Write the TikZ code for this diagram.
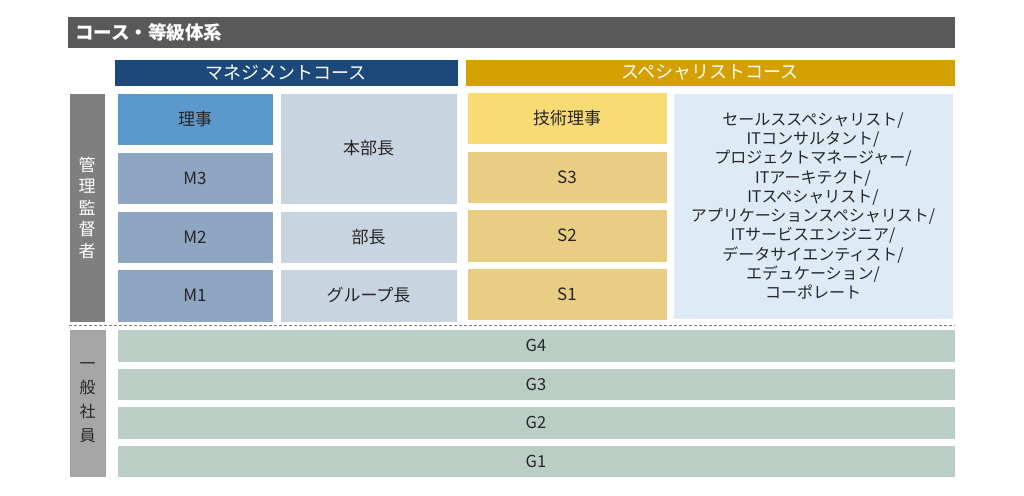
\documentclass[tikz,border=0pt]{standalone}
\usepackage{fontspec}
\setmainfont{Noto Sans CJK JP}
\definecolor{titlebg}{HTML}{595959}
\definecolor{mgmthd}{HTML}{1D497A}
\definecolor{spechd}{HTML}{D3A000}
\definecolor{rijic}{HTML}{5B99CC}
\definecolor{mc}{HTML}{8EA6C1}
\definecolor{posc}{HTML}{C8D4E0}
\definecolor{gijutsuc}{HTML}{F8DB72}
\definecolor{sc}{HTML}{E8CD82}
\definecolor{listc}{HTML}{DEEAF6}
\definecolor{gc}{HTML}{BBCEC5}
\definecolor{bardark}{HTML}{7F7F7F}
\definecolor{barlight}{HTML}{A6A6A6}
\definecolor{txt}{HTML}{262626}
\tikzset{
  cell/.style={draw=white, line width=0.6pt, inner sep=0pt, text=txt, font=\fontsize{17}{19}\selectfont},
  header/.style={cell, text=white, font=\fontsize{18}{20}\selectfont},
}
\begin{document}
\begin{tikzpicture}[x=1pt,y=-1pt]
\useasboundingbox[fill=white] (0,0) rectangle (1024,495);
% title
\node[fill=titlebg, text=white, inner xsep=7pt, inner ysep=0pt, text width=873pt, align=left, minimum height=31pt, font=\fontsize{18.5}{20}\selectfont\bfseries] (title) at (511.5,32.5) {コース・等級体系};
% headers
\node[header, fill=mgmthd, minimum width=344pt, minimum height=27pt] (mgmt) at (286,72.5) {マネジメントコース};
\node[header, fill=spechd, minimum width=490pt, minimum height=27pt] (spec) at (710,72.5) {スペシャリストコース};
% left bars
\node[cell, fill=bardark, text=white, minimum width=36pt, minimum height=229pt, align=center, font=\fontsize{17}{21.5}\selectfont] (kanri) at (87,207.5) {管\\理\\監\\督\\者};
\node[cell, fill=barlight, text=txt, minimum width=37pt, minimum height=148pt, align=center, font=\fontsize{16}{24}\selectfont] (ippan) at (87.5,403) {一\\般\\社\\員};
% management course
\node[cell, fill=rijic, minimum width=156pt, minimum height=52pt] (riji) at (195,119) {理事};
\node[cell, fill=mc, minimum width=156pt, minimum height=52pt] (m3) at (195,178) {M3};
\node[cell, fill=mc, minimum width=156pt, minimum height=52pt] (m2) at (195,237) {M2};
\node[cell, fill=mc, minimum width=156pt, minimum height=53pt] (m1) at (195,295.5) {M1};
\node[cell, fill=posc, minimum width=177pt, minimum height=111pt] (honbucho) at (368.5,148.5) {本部長};
\node[cell, fill=posc, minimum width=177pt, minimum height=52pt] (bucho) at (368.5,237) {部長};
\node[cell, fill=posc, minimum width=177pt, minimum height=53pt] (group) at (368.5,295.5) {グループ長};
% specialist course
\node[cell, fill=gijutsuc, minimum width=200pt, minimum height=52pt] (gijutsu) at (567,118) {技術理事};
\node[cell, fill=sc, minimum width=200pt, minimum height=52pt] (s3) at (567,177) {S3};
\node[cell, fill=sc, minimum width=200pt, minimum height=53pt] (s2) at (567,235.5) {S2};
\node[cell, fill=sc, minimum width=200pt, minimum height=52pt] (s1) at (567,294) {S1};
\node[cell, fill=listc, minimum width=280pt, minimum height=226pt, align=center, font=\fontsize{16}{19.3}\selectfont] (list) at (813,206) {セールススペシャリスト/\\ITコンサルタント/\\プロジェクトマネージャー/\\ITアーキテクト/\\ITスペシャリスト/\\アプリケーションスペシャリスト/\\ITサービスエンジニア/\\データサイエンティスト/\\エデュケーション/\\コーポレート};
% divider
\coordinate (dl) at (69,325);
\coordinate (dr) at (955,325);
\draw[gray, dash pattern=on 3pt off 2pt, line width=1pt] (dl) -- (dr);
% general staff
\node[cell, fill=gc, minimum width=838pt, minimum height=33pt, font=\fontsize{16.5}{18}\selectfont] (g4) at (536,345.5) {G4};
\node[cell, fill=gc, minimum width=838pt, minimum height=32pt, font=\fontsize{16.5}{18}\selectfont] (g3) at (536,384) {G3};
\node[cell, fill=gc, minimum width=838pt, minimum height=33pt, font=\fontsize{16.5}{18}\selectfont] (g2) at (536,422.5) {G2};
\node[cell, fill=gc, minimum width=838pt, minimum height=32pt, font=\fontsize{16.5}{18}\selectfont] (g1) at (536,461) {G1};
\end{tikzpicture}
\end{document}
